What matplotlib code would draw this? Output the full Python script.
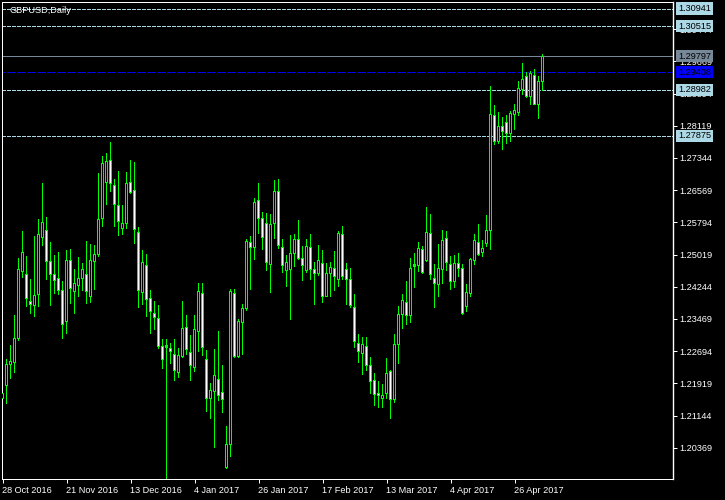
import matplotlib
matplotlib.use('Agg')
import matplotlib.pyplot as plt
import matplotlib.transforms as mtransforms

plt.rcParams['font.family'] = ['Liberation Sans', 'DejaVu Sans']

# GBPUSD daily, 28 Oct 2016 .. 5 May 2017 (one row per trading day)
opens = [1.2156, 1.21866, 1.22372, 1.22420, 1.22989, 1.24609, 1.24545, 1.23895, 1.23791, 1.24056,
         1.25427, 1.25604, 1.24858, 1.24545, 1.24449, 1.24160, 1.23406, 1.24882, 1.24128, 1.24280,
         1.24441, 1.24545, 1.24008, 1.24850, 1.25010, 1.25884, 1.26758, 1.27272, 1.26686, 1.26205,
         1.25644, 1.25772, 1.26758, 1.26566, 1.25555, 1.24112, 1.24762, 1.23968, 1.23591, 1.23486,
         1.22813, 1.22789, 1.22749, 1.22620, 1.22187, 1.22564, 1.23270, 1.22668, 1.22307, 1.23166,
         1.24088, 1.22484, 1.21562, 1.21730, 1.22018, 1.21705, 1.19890, 1.20437, 1.24088, 1.22562,
         1.23390, 1.23711, 1.25315, 1.25187, 1.26318, 1.25893, 1.25772, 1.24786, 1.25772, 1.26534,
         1.25195, 1.24626, 1.24666, 1.25051, 1.25387, 1.24922, 1.24634, 1.25195, 1.24650, 1.24553,
         1.24810, 1.24008, 1.24553, 1.24690, 1.24425, 1.25508, 1.24666, 1.24409, 1.23751, 1.22869,
         1.22645, 1.22797, 1.22356, 1.21979, 1.21674, 1.21546, 1.21674, 1.22204, 1.21530, 1.22861,
         1.23567, 1.23872, 1.23551, 1.24730, 1.24754, 1.25147, 1.24874, 1.25532, 1.24433, 1.24305,
         1.24666, 1.25412, 1.24786, 1.24369, 1.24810, 1.24674, 1.23767, 1.24088, 1.24874, 1.25315,
         1.25067, 1.25291, 1.25604, 1.28371, 1.27738, 1.28106, 1.28203, 1.27938, 1.28395, 1.28435,
         1.28981, 1.29301, 1.28820, 1.29333, 1.28628, 1.29181]
highs = [1.2170, 1.22484, 1.22821, 1.23542, 1.24930, 1.25564, 1.24962, 1.24409, 1.25459, 1.25852,
         1.26718, 1.25900, 1.25299, 1.25002, 1.25058, 1.24360, 1.25106, 1.25130, 1.24665, 1.24938,
         1.24810, 1.25323, 1.25251, 1.25227, 1.26959, 1.27368, 1.27440, 1.27721, 1.26815, 1.27023,
         1.26205, 1.26991, 1.27272, 1.27224, 1.25676, 1.25106, 1.25010, 1.24144, 1.23895, 1.23783,
         1.22981, 1.22965, 1.22869, 1.22965, 1.22749, 1.23879, 1.23542, 1.23061, 1.23542, 1.24312,
         1.24312, 1.22700, 1.21906, 1.22724, 1.23156, 1.22338, 1.20877, 1.24167, 1.24167, 1.23448,
         1.23806, 1.25371, 1.25452, 1.26374, 1.26735, 1.26037, 1.26013, 1.25973, 1.26791, 1.26815,
         1.25371, 1.24986, 1.25468, 1.25492, 1.25829, 1.25203, 1.25387, 1.25492, 1.24826, 1.25227,
         1.25107, 1.24810, 1.24826, 1.25083, 1.25572, 1.25684, 1.24794, 1.24690, 1.24048, 1.23086,
         1.23014, 1.23014, 1.22540, 1.22155, 1.21963, 1.21883, 1.22508, 1.22220, 1.23086, 1.23767,
         1.24048, 1.24361, 1.24931, 1.25051, 1.25307, 1.25211, 1.26142, 1.25973, 1.24770, 1.25251,
         1.25588, 1.25564, 1.24971, 1.24987, 1.25051, 1.24770, 1.24289, 1.24931, 1.25492, 1.25733,
         1.25347, 1.25949, 1.29061, 1.28596, 1.28435, 1.28315, 1.28355, 1.28459, 1.28620, 1.29173,
         1.29622, 1.29398, 1.29414, 1.29462, 1.29317, 1.29823]
lows = [1.2155, 1.21441, 1.22034, 1.22179, 1.22941, 1.24473, 1.23767, 1.23599, 1.23526, 1.23767,
        1.25227, 1.24417, 1.23791, 1.24080, 1.24048, 1.22989, 1.23118, 1.23831, 1.23599, 1.24008,
        1.24144, 1.23839, 1.23863, 1.24176, 1.24970, 1.25692, 1.26221, 1.26534, 1.25692, 1.25475,
        1.25499, 1.25644, 1.26494, 1.25283, 1.23743, 1.23815, 1.23526, 1.23126, 1.23206, 1.22749,
        1.22275, 1.19642, 1.22396, 1.21986, 1.22059, 1.22540, 1.22604, 1.21986, 1.22203, 1.22684,
        1.22588, 1.21241, 1.21072, 1.20381, 1.21496, 1.21207, 1.19859, 1.20155, 1.22546, 1.22531,
        1.22603, 1.23671, 1.24168, 1.24890, 1.25532, 1.25131, 1.24634, 1.24104, 1.25404, 1.25171,
        1.24585, 1.24249, 1.23447, 1.24730, 1.24890, 1.24385, 1.24585, 1.24409, 1.23808, 1.24513,
        1.23864, 1.24008, 1.24008, 1.24152, 1.24249, 1.24409, 1.23808, 1.23743, 1.22781, 1.22420,
        1.22131, 1.22220, 1.21674, 1.21385, 1.21337, 1.21337, 1.21546, 1.21073, 1.21458, 1.22396,
        1.23238, 1.23327, 1.23383, 1.24225, 1.24610, 1.24554, 1.24850, 1.24409, 1.23743, 1.24008,
        1.24329, 1.24634, 1.24185, 1.24225, 1.24489, 1.23583, 1.23647, 1.24008, 1.24778, 1.24995,
        1.24971, 1.25211, 1.25131, 1.27657, 1.27697, 1.27537, 1.27681, 1.27730, 1.28018, 1.28355,
        1.28860, 1.28788, 1.28620, 1.28620, 1.28283, 1.28965]
closes = [1.2167, 1.22380, 1.22436, 1.23005, 1.24649, 1.25074, 1.23968, 1.23815, 1.24040, 1.25507,
          1.25780, 1.24850, 1.24545, 1.24401, 1.24152, 1.23342, 1.24882, 1.24208, 1.24328, 1.24449,
          1.24665, 1.24128, 1.24882, 1.25026, 1.25868, 1.27200, 1.27256, 1.26734, 1.26229, 1.25812,
          1.25756, 1.26734, 1.26518, 1.25628, 1.24152, 1.24834, 1.23944, 1.23647, 1.23510, 1.22805,
          1.22500, 1.22821, 1.22684, 1.22235, 1.22596, 1.23246, 1.22740, 1.22347, 1.23222, 1.24136,
          1.22789, 1.21562, 1.21754, 1.22115, 1.21616, 1.21536, 1.20437, 1.24126, 1.22562, 1.23404,
          1.23710, 1.25331, 1.25187, 1.26278, 1.25893, 1.25428, 1.24834, 1.25748, 1.26534, 1.25235,
          1.24754, 1.24826, 1.25051, 1.25387, 1.24914, 1.24762, 1.25219, 1.24650, 1.24569, 1.24882,
          1.24008, 1.24569, 1.24714, 1.24489, 1.25532, 1.24489, 1.24425, 1.23791, 1.22925, 1.22685,
          1.22861, 1.22348, 1.21963, 1.21658, 1.21618, 1.21634, 1.22163, 1.21530, 1.22861, 1.23583,
          1.23904, 1.23551, 1.24690, 1.24770, 1.25155, 1.24594, 1.25556, 1.24546, 1.24329, 1.24674,
          1.25347, 1.24834, 1.24369, 1.24810, 1.24674, 1.23607, 1.24112, 1.24890, 1.25363, 1.25011,
          1.25155, 1.25604, 1.28395, 1.27738, 1.28106, 1.27978, 1.27938, 1.28403, 1.28475, 1.29021,
          1.29237, 1.28812, 1.29382, 1.28628, 1.29189, 1.29797]

date_ticks = [0, 16, 32, 48, 64, 80, 96, 112, 128]
date_labels = ['28 Oct 2016', '21 Nov 2016', '13 Dec 2016', '4 Jan 2017', '26 Jan 2017',
               '17 Feb 2017', '13 Mar 2017', '4 Apr 2017', '26 Apr 2017']

price_ticks = [1.20369, 1.21144, 1.21919, 1.22694, 1.23469, 1.24244, 1.25019, 1.25794,
               1.26569, 1.27344, 1.28119, 1.28894, 1.29669, 1.30444]

# horizontal levels: price, line colour, style, label box colour
levels = [1.30941, 1.30515, 1.29797, 1.29408, 1.28982, 1.27875]
level_colors = ['#add8e6', '#add8e6', '#778899', '#0000ff', '#add8e6', '#add8e6']
level_styles = ['dash', 'dash', 'solid', 'dash', 'dash', 'dash']

LIME = '#00ff00'
px = 0.72  # one pixel in points at 100 dpi

fig = plt.figure(figsize=(7.25, 5.0), dpi=100, facecolor='black')
ax = fig.add_axes([2 / 725, 21 / 500, 671 / 725, 477 / 500])
ax.set_facecolor('black')
ax.set_xlim(-0.125, 167.625)
ax.set_ylim(1.19618, 1.31098)
ypix = (1.31098 - 1.19618) / 477  # price per screen pixel

n = len(closes)
xs = list(range(n))

for lvl, col, st in zip(levels, level_colors, level_styles):
    if st == 'solid':
        ax.axhline(lvl, color=col, lw=px, zorder=1, antialiased=False)
    else:
        ax.axhline(lvl, color=col, lw=px, dashes=(3, 2), zorder=1, antialiased=False)

ax.vlines(xs, lows, highs, color=LIME, lw=px, zorder=2, antialiased=False, snap=False)

# candle bodies: lime block 3px wide with a 1px core (black = up day, white = down day)
bottoms = [min(o, c) for o, c in zip(opens, closes)]
heights = [max(abs(c - o), ypix) for o, c in zip(opens, closes)]
faces = ['black' if c >= o else 'white' for o, c in zip(opens, closes)]
ax.bar(xs, heights, bottom=bottoms, width=0.75, color=LIME, linewidth=0,
       zorder=3, antialiased=False, snap=False)
core = [i for i in xs if heights[i] > 2 * ypix]
ax.vlines(core, [bottoms[i] + ypix for i in core],
          [bottoms[i] + heights[i] - ypix for i in core],
          colors=[faces[i] for i in core], lw=px, zorder=4, antialiased=False, snap=False)

for side in ['left', 'top', 'bottom']:
    ax.spines[side].set_color('white')
    ax.spines[side].set_linewidth(px)
ax.spines['right'].set_color('white')
ax.spines['right'].set_linewidth(1.0)

ax.yaxis.tick_right()
ax.set_yticks(price_ticks)
ax.set_yticklabels(['%.5f' % p for p in price_ticks])
ax.set_xticks(date_ticks)
ax.set_xticklabels(date_labels, ha='left')
ax.tick_params(axis='y', colors='white', labelsize=6.6, length=3, width=px, pad=1.5)
ax.tick_params(axis='x', colors='white', labelsize=6.6, length=3, width=px, pad=2)
for lab in ax.get_xticklabels():
    lab.set_transform(lab.get_transform() + mtransforms.ScaledTranslation(-1 / 100, 0, fig.dpi_scale_trans))

tr = ax.get_yaxis_transform()
for lvl, col in zip(levels, level_colors):
    ax.text(1.0075, lvl, '%.5f' % lvl, transform=tr, ha='left', va='center',
            fontsize=6.6, color='black', zorder=6, clip_on=False,
            bbox=dict(boxstyle='square,pad=0.18', fc=col, ec='none'))

ax.text(7 / 671, 0.992, 'GBPUSD,Daily', transform=ax.transAxes,
        ha='left', va='top', color='white', fontsize=6.6)

fig.savefig('out.png', dpi=100, facecolor='black')
